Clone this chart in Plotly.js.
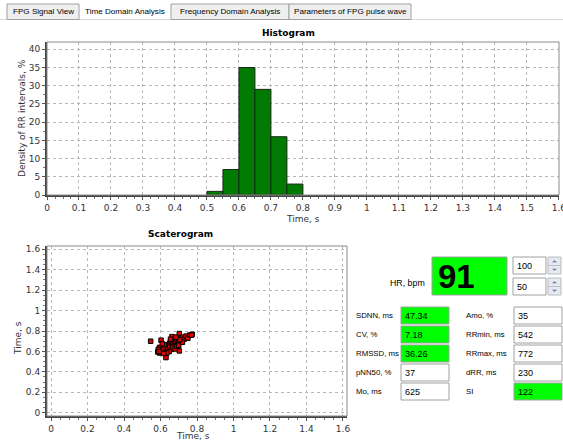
<!DOCTYPE html>
<html>
<head>
<meta charset="utf-8">
<script src="https://cdn.plot.ly/plotly-3.0.1.min.js"></script>
<style>html,body{margin:0;padding:0;background:#fff;}#chart{width:563px;height:441px;}</style>
</head>
<body>
<div id="chart"></div>
<script>
// ---- Data ----
const binStarts = [0.50, 0.55, 0.60, 0.65, 0.70, 0.75];
const binDensity = [1, 7, 35, 29, 16, 3];
const binWidth = 0.05;

const rrN = [0.546,0.603,0.630,0.703,0.774,0.663,0.703,0.585,0.590,0.595,0.600,0.605,0.610,0.615,0.620,0.625,0.630,0.635,0.640,0.645,0.650,0.655,0.660,0.665,0.670,0.675,0.680,0.685,0.690,0.695,0.700,0.710,0.715,0.720,0.730,0.740,0.750,0.760,0.770,0.600,0.612,0.622,0.640,0.650,0.660,0.668,0.680,0.690,0.700,0.648,0.635,0.618,0.595,0.610,0.655,0.720,0.705,0.685,0.588,0.592];
const rrN1 = [0.700,0.710,0.540,0.775,0.768,0.745,0.605,0.595,0.610,0.585,0.625,0.600,0.640,0.620,0.600,0.650,0.610,0.630,0.660,0.640,0.680,0.700,0.650,0.690,0.670,0.710,0.690,0.700,0.720,0.680,0.700,0.730,0.700,0.740,0.720,0.750,0.730,0.760,0.760,0.590,0.630,0.665,0.620,0.640,0.620,0.640,0.625,0.650,0.660,0.600,0.585,0.580,0.640,0.675,0.720,0.690,0.715,0.740,0.620,0.600];

const hrValue = "91";
const spinValues = ["100", "50"];
const leftLabels = ["SDNN, ms", "CV, %", "RMSSD, ms", "pNN50, %", "Mo, ms"];
const leftValues = ["47.34", "7.18", "36.26", "37", "625"];
const leftHighlight = [true, true, true, false, false];
const rightLabels = ["Amo, %", "RRmin, ms", "RRmax, ms", "dRR, ms", "SI"];
const rightValues = ["35", "542", "772", "230", "122"];
const rightHighlight = [false, false, false, false, true];
const tabs = ["FPG Signal View", "Time Domain Analysis", "Frequency Domain Analysis", "Parameters of FPG pulse wave"];

// ---- helpers ----
const W = 563, H = 441;
const X = p => p / W;
const Y = p => 1 - p / H;
const FONT = "DejaVu Sans";
const UIFONT = "Liberation Sans";
const shapes = [];
const annotations = [];
function rect(x0, y0, x1, y1, fill, line, lw) {
  shapes.push({type: 'rect', xref: 'paper', yref: 'paper', x0: X(x0), x1: X(x1), y0: Y(y1), y1: Y(y0),
    fillcolor: fill, line: {color: line || 'rgba(0,0,0,0)', width: lw === undefined ? 1 : lw}, layer: 'above'});
}
function text(t, x, y, opts) {
  annotations.push(Object.assign({text: t, xref: 'paper', yref: 'paper', x: X(x), y: Y(y), showarrow: false,
    xanchor: 'left', yanchor: 'middle', font: {family: UIFONT, size: 7.8, color: '#000'}}, opts || {}));
}
function tri(cx, cy, up) {
  const w = 2.5, h = 2;
  const p = up ? [[cx - w, cy + h / 2], [cx + w, cy + h / 2], [cx, cy - h / 2]] : [[cx - w, cy - h / 2], [cx + w, cy - h / 2], [cx, cy + h / 2]];
  shapes.push({type: 'path', xref: 'paper', yref: 'paper', layer: 'above',
    path: 'M' + p.map(q => X(q[0]) + ',' + Y(q[1])).join('L') + 'Z', fillcolor: '#5a7aa8', line: {width: 0}});
}
const VALFONT = {family: UIFONT, size: 9, color: '#000'};

// ---- Tabs ----
const tabX = [7, 79, 171, 289, 411];
shapes.push({type: 'line', xref: 'paper', yref: 'paper', x0: X(0), x1: X(563), y0: Y(19.5), y1: Y(19.5), line: {color: '#d8d8d8', width: 1}});
tabs.forEach((t, i) => {
  if (i !== 1) rect(tabX[i], 4, tabX[i + 1], 19.5, '#efefef', '#a0a0a0', 1);
  text(t, (tabX[i] + tabX[i + 1]) / 2, 11.5, {xanchor: 'center', font: {family: UIFONT, size: 8.1, color: '#000'}});
});

// ---- Chart titles ----
text('Histogram', 288, 33, {xanchor: 'center', font: {family: FONT, size: 9, color: '#000', weight: 'bold'}});
text('Time, s', 303, 219, {xanchor: 'center', font: {family: FONT, size: 9, color: '#333'}});
text('Density of RR intervals, %', 22, 118, {xanchor: 'center', textangle: -90, font: {family: FONT, size: 9, color: '#333'}});
text('Scaterogram', 180, 234, {xanchor: 'center', font: {family: FONT, size: 9, color: '#000', weight: 'bold'}});
text('Time, s', 18, 338, {xanchor: 'center', textangle: -90, font: {family: FONT, size: 9, color: '#333'}});
text('Time, s', 193, 436, {xanchor: 'center', font: {family: FONT, size: 9, color: '#333'}});

// plot frames (top/right gray)
rect(47, 42, 559, 195, 'rgba(0,0,0,0)', '#8a8a8a', 1);
rect(47, 246, 347, 416, 'rgba(0,0,0,0)', '#8a8a8a', 1);

// ---- Right panel ----
text('HR, bpm', 427, 283, {xanchor: 'right', font: {family: UIFONT, size: 8.8, color: '#000'}});
rect(432, 257, 507, 295, '#00ff00', '#a0a0a0', 1);
text(hrValue, 436, 276, {font: {family: UIFONT, size: 33, color: '#000', weight: 'bold'}});
[[257, 274], [278, 295]].forEach((r, i) => {
  rect(513, r[0], 546, r[1], '#fff', '#a0a0a0', 1);
  text(spinValues[i], 515, (r[0] + r[1]) / 2, {font: VALFONT});
  const mid = (r[0] + r[1]) / 2;
  rect(548, r[0], 561, mid, '#e6eaef', '#b8bcc4', 1);
  rect(548, mid, 561, r[1], '#e6eaef', '#b8bcc4', 1);
  tri(554.5, (r[0] + mid) / 2, true);
  tri(554.5, (mid + r[1]) / 2, false);
});
const rowTops = [307, 326, 345, 364, 383];
rowTops.forEach((t, i) => {
  const b = t + 17, m = t + 8.5;
  text(leftLabels[i], 354, m);
  rect(401, t, 449, b, leftHighlight[i] ? '#00ff00' : '#fff', '#a0a0a0', 1);
  text(leftValues[i], 403, m, {font: VALFONT});
  text(rightLabels[i], 464, m);
  rect(514, t, 562, b, rightHighlight[i] ? '#00ff00' : '#fff', '#a0a0a0', 1);
  text(rightValues[i], 516, m, {font: VALFONT});
});

// ---- Traces ----
const traces = [
  {type: 'bar', x: binStarts, y: binDensity, width: binWidth, offset: 0, xaxis: 'x', yaxis: 'y',
   marker: {color: '#007a00', line: {color: '#1a2a1a', width: 1}}, hoverinfo: 'x+y'},
  {type: 'scatter', mode: 'markers', x: rrN, y: rrN1, xaxis: 'x2', yaxis: 'y2',
   marker: {symbol: 'square', size: 4.5, color: '#e00000', line: {color: '#000', width: 1}}}
];

const axisCommon = {
  showgrid: true, gridcolor: '#b8b8b8', griddash: '3px,3px', gridwidth: 1,
  zeroline: false, showline: true, linecolor: '#444', linewidth: 2,
  ticks: 'outside', ticklen: 3, tickcolor: '#555', tickwidth: 1, ticklabeloverflow: 'allow',
  tickfont: {family: FONT, size: 9, color: '#333'}, fixedrange: true
};

const layout = {
  width: W, height: H, margin: {l: 0, r: 0, t: 0, b: 0},
  paper_bgcolor: '#fff', plot_bgcolor: '#fff', showlegend: false,
  xaxis: Object.assign({}, axisCommon, {domain: [X(47), X(559)], range: [0, 1.6005], dtick: 0.1, tick0: 0, anchor: 'y',
    minor: {ticks: 'outside', ticklen: 2, tickcolor: '#777', dtick: 0.025, showgrid: false}}),
  yaxis: Object.assign({}, axisCommon, {domain: [Y(195), Y(42)], range: [0, 42], dtick: 5, tick0: 0, anchor: 'x',
    minor: {ticks: 'outside', ticklen: 2, tickcolor: '#777', dtick: 2.5, showgrid: false}}),
  xaxis2: Object.assign({}, axisCommon, {domain: [X(47), X(347)], range: [-0.022, 1.622], dtick: 0.2, tick0: 0, anchor: 'y2',
    minor: {ticks: 'outside', ticklen: 2, tickcolor: '#777', dtick: 0.05, showgrid: false}}),
  yaxis2: Object.assign({}, axisCommon, {domain: [Y(416), Y(246)], range: [-0.032, 1.632], dtick: 0.2, tick0: 0, anchor: 'x2',
    minor: {ticks: 'outside', ticklen: 2, tickcolor: '#777', dtick: 0.05, showgrid: false}}),
  shapes: shapes, annotations: annotations
};

Plotly.newPlot('chart', traces, layout, {displayModeBar: false, staticPlot: true});
</script>
</body>
</html>
